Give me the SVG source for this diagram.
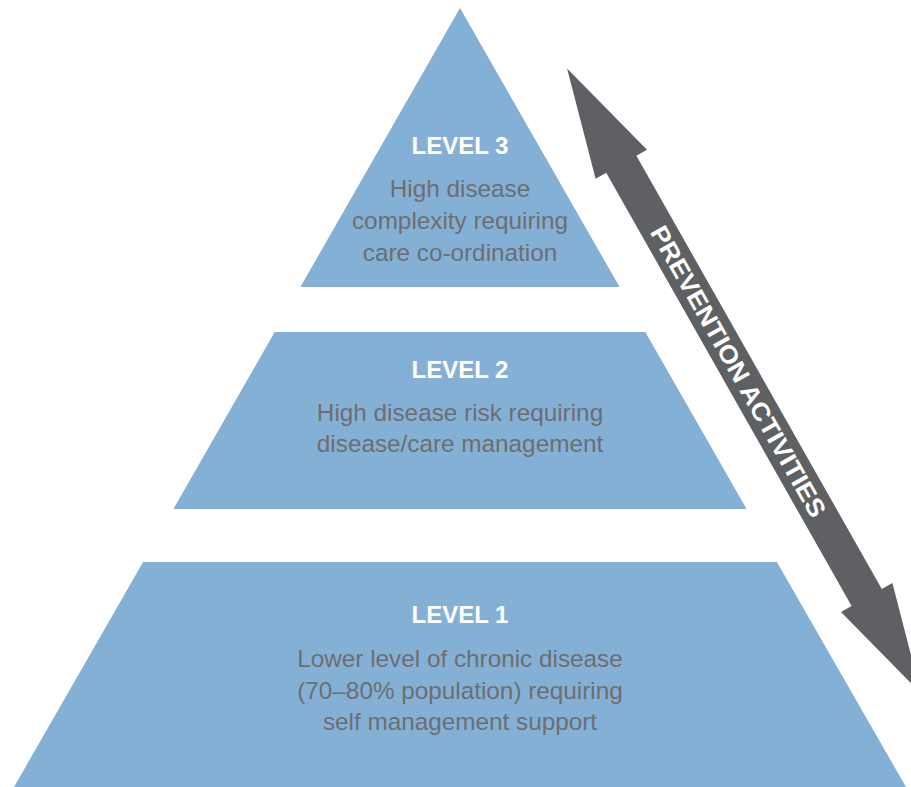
<svg xmlns="http://www.w3.org/2000/svg" width="911" height="787" viewBox="0 0 911 787">
<style>
.tier{fill:#85B0D6;}
.head{font-family:"Liberation Sans",Arial,sans-serif;font-weight:bold;font-size:24px;fill:#FFFFFF;text-anchor:middle;}
.body{font-family:"Liberation Sans",Arial,sans-serif;font-size:24.3px;fill:#6D6E71;text-anchor:middle;}
.arrow{fill:#5F6063;}
.arrowlabel{font-family:"Liberation Sans",Arial,sans-serif;font-weight:bold;font-size:25px;fill:#FFFFFF;text-anchor:middle;}
</style>
<rect width="911" height="787" fill="#FFFFFF"/>
<g id="level3">
<polygon class="tier" points="460,8 300.4,287 619.6,287"/>
<text class="head" x="460" y="154">LEVEL 3</text>
<text class="body" x="460" y="197">High disease</text>
<text class="body" x="460" y="229">complexity requiring</text>
<text class="body" x="460" y="261">care co-ordination</text>
</g>
<g id="level2">
<polygon class="tier" points="274.7,332 645.3,332 746.6,509 173.4,509"/>
<text class="head" x="460" y="378">LEVEL 2</text>
<text class="body" x="460" y="421">High disease risk requiring</text>
<text class="body" x="460" y="452">disease/care management</text>
</g>
<g id="level1">
<polygon class="tier" points="143.1,562 776.9,562 906,787 14,787"/>
<text class="head" x="460" y="623">LEVEL 1</text>
<text class="body" x="460" y="667">Lower level of chronic disease</text>
<text class="body" x="460" y="699">(70–80% population) requiring</text>
<text class="body" x="460" y="730">self management support</text>
</g>
<g id="connectors">
<g id="prevention-arrow">
<polygon class="arrow" points="567.1,68.5 647,149.7 636.4,155.7 881.8,589 892.4,583 920.9,693.2 841,612 851.6,606 606.2,172.7 595.6,178.7"/>
<text class="arrowlabel" transform="translate(738.6,371.3) rotate(60.5)" x="0" y="9" textLength="330" lengthAdjust="spacingAndGlyphs">PREVENTION ACTIVITIES</text>
</g>
</g>
</svg>
